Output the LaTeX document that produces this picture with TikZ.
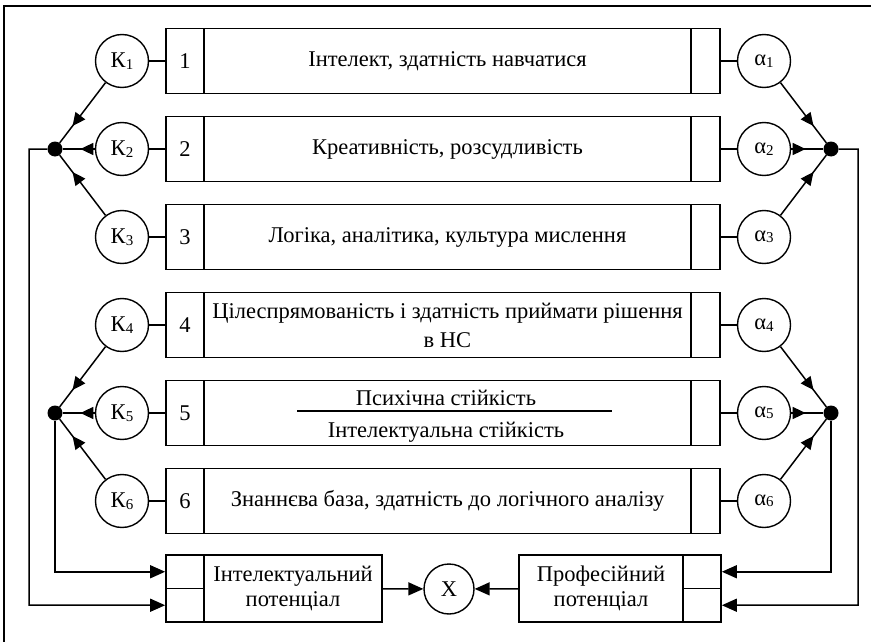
\documentclass[tikz,border=0pt]{standalone}
\usepackage{fontspec}
\setmainfont{Liberation Serif}
\usetikzlibrary{arrows.meta,decorations.markings}

% circle label with a lowered index
\newcommand\lbl[2]{#1\raisebox{-1.5pt}{\fontsize{15}{15}\selectfont #2}}

\begin{document}
\begin{tikzpicture}[x=1pt,y=-1pt,
  font=\fontsize{22.5}{29}\selectfont,
  box/.style={draw, line width=1.7pt, inner sep=0pt, minimum height=65pt},
  numcell/.style={box, minimum width=38pt},
  txtcell/.style={box, minimum width=487pt, align=center},
  endcell/.style={box, minimum width=29pt},
  halfcell/.style={draw, line width=1.7pt, inner sep=0pt, minimum width=38pt, minimum height=33.5pt},
  ring/.style={circle, draw, line width=1.4pt, minimum size=53pt, inner sep=0pt},
  dot/.style={circle, fill, inner sep=0pt, minimum size=15pt},
  link/.style={line width=1.5pt},
  flow/.style={line width=1.5pt, -{Triangle[length=15pt,width=13pt]}},
  midarrow/.style={line width=1.5pt, postaction={decorate},
    decoration={markings, mark=at position #1 with {\arrow{Triangle[length=13pt,width=12pt]}}}}
]
\useasboundingbox (0,0) rectangle (871,642);

% outer frame
\draw[line width=1.7pt] (4,642) -- (4,6) -- (871,6);

% text cells of the six rows
\node[txtcell] (t1) at (447.5,61)  {Інтелект, здатність навчатися};
\node[txtcell] (t2) at (447.5,149) {Креативність, розсудливість};
\node[txtcell] (t3) at (447.5,237) {Логіка, аналітика, культура мислення};
\node[txtcell] (t4) at (447.5,325) {Цілеспрямованість і здатність приймати рішення\\в НС};
\node[txtcell] (t5) at (447.5,413) {};
\node[txtcell] (t6) at (447.5,501) {Знаннєва база, здатність до логічного аналізу};

% row 5: two qualities separated by a rule
\node[anchor=base, inner sep=0pt] (p5a) at (446,405) {Психічна стійкість};
\node[anchor=base, inner sep=0pt] (p5b) at (446,437) {Інтелектуальна стійкість};
\coordinate (r5a) at (297,411);
\coordinate (r5b) at (612,411);
\draw[line width=1.5pt] (r5a) -- (r5b);

% number cells, end cells, weight circles
\foreach \i/\y in {1/61,2/149,3/237,4/325,5/413,6/501}{
  \node[numcell] (n\i) at (185,\y) {\i};
  \node[endcell] (e\i) at (705.5,\y) {};
  \node[ring] (k\i) at (122,\y) {\lbl{К}{\i}};
  \node[ring] (a\i) at (764,\y) {\lbl{α}{\i}};
  \draw[link] (k\i) -- (n\i);
  \draw[link] (e\i) -- (a\i);
}

% junction points
\node[dot] (dL1) at (55,149) {};
\node[dot] (dL2) at (55,413) {};
\node[dot] (dR1) at (831,149) {};
\node[dot] (dR2) at (831,413) {};

\draw[midarrow=0.72] (k1) -- (dL1);
\draw[midarrow=0.45] (k2) -- (dL1);
\draw[midarrow=0.72] (k3) -- (dL1);
\draw[midarrow=0.72] (k4) -- (dL2);
\draw[midarrow=0.45] (k5) -- (dL2);
\draw[midarrow=0.72] (k6) -- (dL2);

\draw[midarrow=0.72] (a1) -- (dR1);
\draw[midarrow=0.45] (a2) -- (dR1);
\draw[midarrow=0.72] (a3) -- (dR1);
\draw[midarrow=0.72] (a4) -- (dR2);
\draw[midarrow=0.45] (a5) -- (dR2);
\draw[midarrow=0.72] (a6) -- (dR2);

% intellectual potential
\node[box, minimum width=178pt, minimum height=67pt, align=center, font=\fontsize{22.5}{25.5}\selectfont]
  (it) at (293,588.5) {Інтелектуальний\\потенціал};
\node[halfcell] (iu) at (185,571.75) {};
\node[halfcell] (il) at (185,605.25) {};

% professional potential
\node[box, minimum width=164pt, minimum height=67pt, align=center, font=\fontsize{22.5}{25.5}\selectfont]
  (pt) at (601,588.5) {Професійний\\потенціал};
\node[halfcell] (pu) at (702,571.75) {};
\node[halfcell] (pl) at (702,605.25) {};

% result
\node[ring, minimum size=50pt] (x) at (449,589) {X};

% feedback lines
\coordinate (cL) at (29,605);
\coordinate (cR) at (858,605);
\draw[flow] (dL1) -| (cL) -- (il.west);
\draw[flow] (dL2) |- (iu.west);
\draw[flow] (dR1) -| (cR) -- (pl.east);
\draw[flow] (dR2) |- (pu.east);

\draw[flow] (it) -- (x);
\draw[flow] (pt) -- (x);
\end{tikzpicture}
\end{document}
